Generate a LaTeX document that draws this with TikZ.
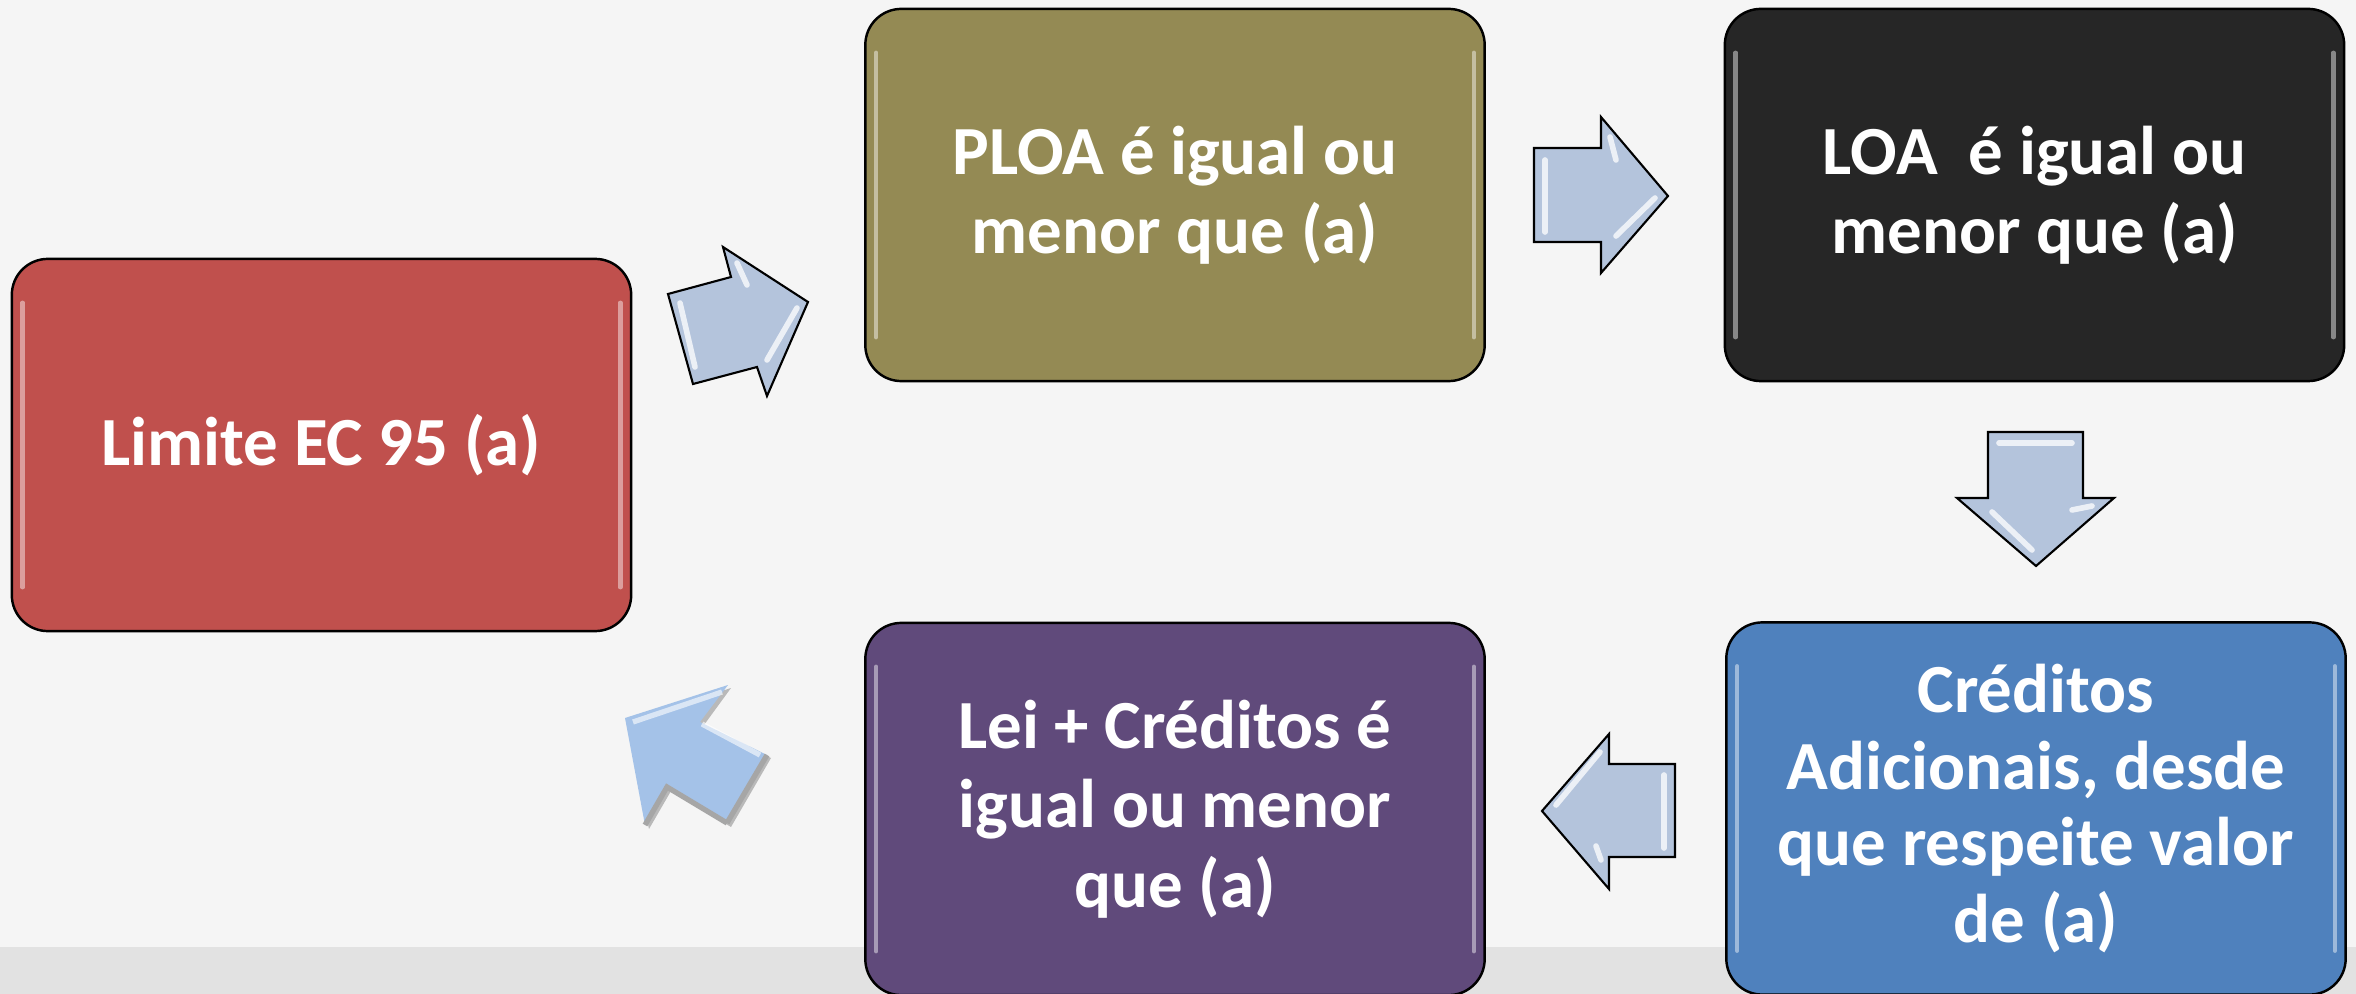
\documentclass[tikz,border=0pt]{standalone}
\usepackage{fontspec}
\setmainfont{Carlito}
\definecolor{bgc}{HTML}{F5F5F5}
\definecolor{bandc}{HTML}{E2E2E2}
\definecolor{redc}{HTML}{C0504D}
\definecolor{olivec}{HTML}{948A54}
\definecolor{blackc}{HTML}{262626}
\definecolor{bluec}{HTML}{4F81BD}
\definecolor{purplec}{HTML}{604A7B}
\definecolor{arrc}{HTML}{B4C4DC}
\definecolor{arrb}{HTML}{A4C2E8}
\tikzset{
  box/.style={draw=black, line width=0.7pt, rounded corners=0.36cm, minimum width=6.19cm, minimum height=3.72cm,
    text=white, align=center, font=\fontsize{19.6}{22.6}\selectfont\bfseries, inner sep=0pt},
  barrow/.style={fill=arrc, draw=black, line width=0.6pt, line join=miter},
  hl/.style={draw=white, line width=1.6pt, opacity=0.75, line cap=round},
  gloss/.style={draw=white, line width=1.2pt, opacity=0.45, line cap=round}
}
\begin{document}
\begin{tikzpicture}[x=0.01cm,y=-0.01cm]
\useasboundingbox (0,0) rectangle (2356,994);
\fill[bgc] (0,0) rectangle (2356,994);
\fill[bandc] (0,947) rectangle (2356,994);

% boxes
\node[box, fill=redc] (lim) at (321.5,445) {Limite EC 95 (a)};
\node[box, fill=olivec] (ploa) at (1175,195) {PLOA é igual ou\\menor que (a)};
\node[box, fill=blackc] (loa) at (2034.5,195) {LOA\ \ é igual ou\\menor que (a)};
\node[box, fill=bluec, font=\fontsize{19.6}{21.8}\selectfont\bfseries] (cred) at (2036,808.5) {Créditos\\Adicionais, desde\\que respeite valor\\de (a)};
\node[box, fill=purplec] (lei) at (1175,809) {Lei + Créditos é\\igual ou menor\\que (a)};

% gloss lines on boxes
\foreach \n in {lim,ploa,loa,cred,lei}{
  \draw[gloss] ([xshift=0.12cm,yshift=-0.45cm]\n.north west) -- ([xshift=0.12cm,yshift=0.45cm]\n.south west);
  \draw[gloss] ([xshift=-0.12cm,yshift=-0.45cm]\n.north east) -- ([xshift=-0.12cm,yshift=0.45cm]\n.south east);
}

% arrow 1 (diagonal, red -> olive)
\draw[barrow] (668,294) -- (731,277) -- (723,247) -- (808,302) -- (767,396) -- (757,367) -- (693,384) -- cycle;
\draw[hl] (680,303) -- (695,367);
\draw[hl] (737,263) -- (747,285);
\draw[hl] (797,308) -- (767,360);

% arrow 2 (right)
\draw[barrow] (1534,148) -- (1601,148) -- (1601,117) -- (1668,196) -- (1601,273) -- (1601,242) -- (1534,242) -- cycle;
\draw[hl] (1545,160) -- (1545,232);
\draw[hl] (1610,137) -- (1616,160);
\draw[hl] (1655,198) -- (1616,236);

% arrow 3 (down)
\draw[barrow] (1988,432) -- (2083,432) -- (2083,498) -- (2114,498) -- (2036,566) -- (1957,498) -- (1988,498) -- cycle;
\draw[hl] (1999,443) -- (2072,443);
\draw[hl] (1992,512) -- (2032,550);
\draw[hl] (2072,510) -- (2092,506);

% arrow 4 (left)
\draw[barrow] (1675,764) -- (1609,764) -- (1609,734) -- (1542,811) -- (1609,889) -- (1609,857) -- (1675,857) -- cycle;
\draw[hl] (1664,775) -- (1664,848);
\draw[hl] (1600,752) -- (1556,805);
\draw[hl] (1596,846) -- (1601,860);

% arrow 5 (diagonal, purple -> red), bevelled
\fill[gray!55] (627,722) -- (731,688) -- (704,725) -- (771,758) -- (731,827) -- (671,791) -- (649,829) -- cycle;
\fill[arrb] (625,718) -- (728,685) -- (700,722) -- (767,755) -- (727,823) -- (667,787) -- (645,825) -- cycle;
\draw[white, line width=1.5pt, opacity=0.6] (633,722) -- (722,692);
\draw[white, line width=1.5pt, opacity=0.6] (702,724) -- (760,755);
\draw[gray!70, line width=1.5pt] (727,823) -- (767,755);
\draw[gray!70, line width=1.5pt] (645,825) -- (667,787) -- (727,823);
\end{tikzpicture}
\end{document}
